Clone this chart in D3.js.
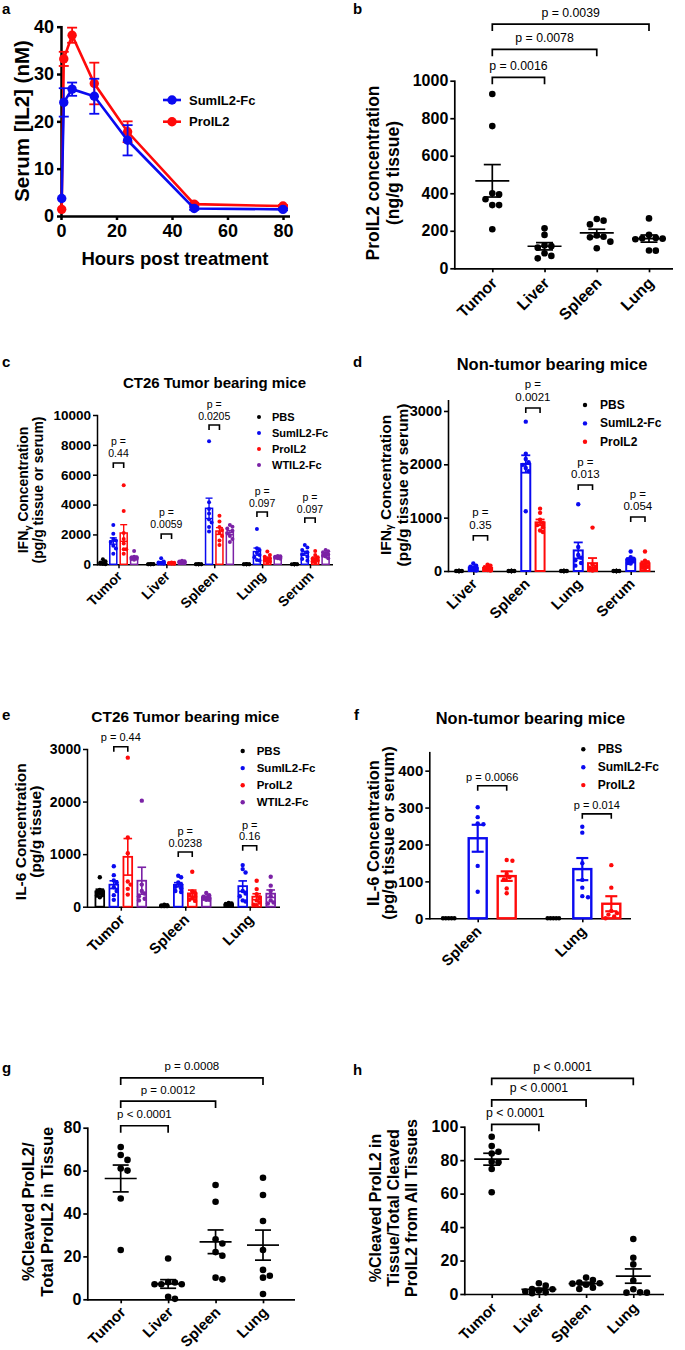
<!DOCTYPE html>
<html><head><meta charset="utf-8">
<script src="https://cdn.jsdelivr.net/npm/d3@7"></script>
<style>
body{margin:0;background:#fff}
svg{display:block}
text{font-family:"Liberation Sans",Arial,Helvetica,sans-serif}
</style>
</head><body>
<svg id="fig" width="685" height="1350"></svg>
<script>
// ================= DATA =================
// Panel a: serum IL2 time course (mean, SEM)
const aTimes   = [0.25, 1, 4, 12, 24, 48, 80];
const aSumMean = [3.7, 24.0, 26.8, 25.3, 16.0, 1.6, 1.4];
const aSumErr  = [0, 3.0, 1.4, 3.7, 3.2, 0.3, 0.2];
const aProMean = [1.4, 33.2, 38.2, 28.0, 17.8, 2.5, 2.1];
const aProErr  = [0, 1.5, 1.6, 4.4, 2.2, 0.3, 0.2];
const aXTicks  = [0, 20, 40, 60, 80];
const aYTicks  = [0, 10, 20, 30, 40];
const aLegend  = ["SumIL2-Fc", "ProIL2"];

// shared tissue categories
const tissues = ["Tumor", "Liver", "Spleen", "Lung"];

// Panel b: ProIL2 concentration (ng/g tissue)
const bValues = [
  [929, 758, 400, 394, 368, 337, 337, 208],
  [213, 178, 122, 118, 110, 80, 66, 53],
  [263, 254, 234, 175, 168, 165, 142, 107],
  [266, 178, 162, 160, 158, 155, 95, 94]
];
const bYTicks  = [0, 200, 400, 600, 800, 1000];
const bPLabels = ["p = 0.0016", "p = 0.0078", "p = 0.0039"];
const bPLevels = [1018, 1167, 1302];

// Panel c: IFNg, CT26 tumor bearing mice
const cGroups = ["Tumor", "Liver", "Spleen", "Lung", "Serum"];
const cSeries = ["PBS", "SumIL2-Fc", "ProIL2", "WTIL2-Fc"];
const cPBS = [[330,200,120,80,50,30,20,10],[20,15,10,10,5,5,0,0],[10,5,5,0,0,0,0,0],[10,5,5,0,0,0,0,0],[10,5,0,0,0,0,0,0]];
const cSum = [[2630,2050,1700,1600,1500,1250,1050,700],[400,180,120,100,80,60,50,40],[8250,4150,3700,3400,3000,2800,2500,2200],[2370,1070,950,780,620,470,290,250],[1300,1120,960,800,650,500,350,240]];
const cPro = [[5300,3570,2100,1700,1400,1000,1000,700],[120,100,80,70,60,50,40,30],[3260,2860,2500,2300,2100,1900,1600,1300],[850,620,500,400,300,250,180,100],[890,620,470,380,300,250,180,110]];
const cWT  = [[890,500,470,450,420,380,350,300],[230,200,180,160,140,130,100,80],[2630,2520,2400,2250,2100,1900,1700,1500],[560,540,500,480,460,440,400,380],[960,880,800,720,650,580,520,410]];
const cYTicks  = [0, 2000, 4000, 6000, 8000, 10000];
const cPLabels = [["p =","0.44"],["p =","0.0059"],["p =","0.0205"],["p =","0.097"],["p =","0.097"]];
const cPLevels = [6785, 2030, 9330, 3500, 3100];

// Panel d: IFNg, non-tumor bearing mice
const dGroups = ["Liver", "Spleen", "Lung", "Serum"];
const dSeries = ["PBS", "SumIL2-Fc", "ProIL2"];
const dPBS = [[0,0,0,0,0,0,0,0],[0,0,0,0,0,0,0,0],[0,0,0,0,0,0,0,0],[0,0,0,0,0,0,0,0]];
const dSum = [[140,100,80,60,50,40,20,10],[2800,2200,2100,2040,1990,1930,1870,1120],[1250,450,300,250,200,150,100],[366,260,230,210,200,180,150,140]];
const dPro = [[120,100,70,60,40,30,20,10],[1170,1090,960,900,860,820,760,730],[814,120,80,60,40,30,20,10],[366,193,160,130,110,80,60,45]];
const dYTicks  = [0, 1000, 2000, 3000];
const dPLabels = [["p =","0.35"],["p =","0.0021"],["p =","0.013"],["p =","0.054"]];
const dPLevels = [662, 3056, 1612, 1012];

// Panel e: IL-6, CT26 tumor bearing mice
const eGroups = ["Tumor", "Spleen", "Lung"];
const eSeries = ["PBS", "SumIL2-Fc", "ProIL2", "WTIL2-Fc"];
const ePBS = [[560,320,300,280,260,220,210,180],[40,30,25,20,15,10,10,10],[70,60,50,40,30,30,20,20]];
const eSum = [[770,600,500,460,370,300,220,130],[589,560,460,420,380,350,300,280],[791,715,652,300,250,200,120,100]];
const ePro = [[2835,1316,1019,480,420,340,230],[665,290,260,220,190,160,130,110],[494,335,240,180,120,80,40,30]];
const eWT  = [[2017,420,300,250,200,150,120],[260,220,190,175,160,150,130,130],[570,400,300,200,120,80,60]];
const eYTicks  = [0, 1000, 2000, 3000];
const ePLabels = [["p = 0.44"],["p =","0.0238"],["p =","0.16"]];
const ePLevels = [3042, 1040, 1160];

// Panel f: IL-6, non-tumor bearing mice
const fGroups = ["Spleen", "Lung"];
const fSeries = ["PBS", "SumIL2-Fc", "ProIL2"];
const fPBS = [[0,0,0,0,0],[0,0,0,0,0]];
const fSum = [[301,274,257,255,142,72],[248,232,149,104,83,60,57]];
const fPro = [[158,156,120,112,105,81,68],[144,83,20,14,10,5,0]];
const fYTicks  = [0, 100, 200, 300, 400];
const fPLabels = [["p = 0.0066"],["p = 0.014"]];
const fPLevels = [359, 283];

// Panel g: % cleaved ProIL2 / total ProIL2 in tissue
const gValues = [
  [71, 67.3, 65, 61, 60, 47, 23],
  [19, 8, 7.8, 7, 7, 7, 1.2, 0.2],
  [53.3, 45.5, 28, 26, 22, 20.3, 10.1, 9.3],
  [56.7, 48.6, 36.5, 23, 13.7, 11, 10.1, 2.5]
];
const gYTicks  = [0, 20, 40, 60, 80];
const gPLabels = ["p < 0.0001", "p = 0.0012", "p = 0.0008"];
const gPLevels = [80.9, 92.4, 103.2];

// Panel h: % cleaved ProIL2 in tissue / total cleaved from all tissues
const hValues = [
  [94, 88.4, 85, 84, 79, 78.7, 74.7, 60.8],
  [6.4, 5, 3, 2.8, 2, 1.5, 1, 0.5],
  [9.8, 8.4, 6.8, 6.4, 6.2, 5.5, 3.8, 3],
  [32.9, 21.7, 17.7, 8, 2.8, 1, 0.8, 0.8]
];
const hYTicks  = [0, 20, 40, 60, 80, 100];
const hPLabels = ["p < 0.0001", "p < 0.0001", "p < 0.0001"];
const hPLevels = [101.4, 116, 128.9];

// ================= DRAWING =================
const COL = {"PBS":"#000000","SumIL2-Fc":"#0a0af0","ProIL2":"#ff0a0a","WTIL2-Fc":"#7b22a6"};
const fmt = d3.format("d");
const fig = d3.select("#fig");
fig.append("rect").attr("width",685).attr("height",1350).attr("fill","#fff");

function styleAxis(ag, fs, sw){
  ag.select(".domain").attr("stroke-width", sw).attr("stroke","#000").attr("stroke-linecap","square");
  ag.selectAll(".tick line").attr("stroke-width", sw).attr("stroke","#000");
  ag.selectAll(".tick text").attr("font-size", fs).attr("font-weight","bold").attr("fill","#000");
}
function txt(g, x, y, s, o){
  o = o || {};
  const t = g.append("text").attr("x",x).attr("y",y).text(s)
    .attr("font-size", o.size || 12)
    .attr("font-weight", o.bold ? "bold" : "normal")
    .attr("text-anchor", o.anchor || "start")
    .attr("fill", o.fill || "#000");
  if (o.baseline) t.attr("dominant-baseline", o.baseline);
  return t;
}
function vTitle(g, xs, cy, lines, fs){
  lines.forEach((L, i) => {
    const t = g.append("text").attr("transform", `translate(${xs[i]},${cy}) rotate(-90)`)
      .attr("text-anchor","middle").attr("dominant-baseline","central")
      .attr("font-size", fs).attr("font-weight","bold").attr("fill","#000");
    if (L.indexOf("γ") >= 0) {
      const parts = L.split("γ");
      t.append("tspan").text(parts[0]);
      t.append("tspan").text("γ").attr("font-size", fs*0.68).attr("dy", fs*0.28);
      t.append("tspan").text(parts[1]).attr("dy", -fs*0.28);
    } else t.text(L);
  });
}
function swarm(vals, ys, cx, step, maxOff, sep){
  const pts = vals.map(v => ({v, y: ys(v)})).sort((a,b) => a.y - b.y);
  const offs = [0];
  for (let i = 1; i*step <= maxOff + 1e-6; i++) offs.push(i*step, -i*step);
  const placed = [];
  for (const p of pts){
    let best = cx, bestD = -1;
    for (const o of offs){
      const x = cx + o;
      const dmin = placed.length ? d3.min(placed, q => Math.hypot(q.x - x, q.y - p.y)) : Infinity;
      if (dmin >= sep){ best = x; bestD = dmin; break; }
      if (dmin > bestD){ bestD = dmin; best = x; }
    }
    p.x = best; placed.push(p);
  }
  return placed;
}
function rotLabels(g, cats, xs, y0, fs, dx, dy){
  g.selectAll(null).data(cats).join("text")
    .attr("transform", d => `translate(${xs(d)+dx},${y0+dy}) rotate(-45)`)
    .attr("text-anchor","end").attr("dominant-baseline","central")
    .attr("font-size", fs).attr("font-weight","bold").attr("fill","#000")
    .text(d => d);
}
function label(x, y, s){ txt(fig, x, y, s, {size:15, bold:true}); }

// ---------- Panel a ----------
(function(){
  const g = fig.append("g");
  const x = d3.scaleLinear([0, 80], [61, 283]);
  const y = d3.scaleLinear([0, 40], [216, 26.7]);
  const ya = g.append("g").attr("transform","translate(61,0)")
    .call(d3.axisLeft(y).tickValues(aYTicks).tickFormat(fmt).tickSize(4).tickPadding(3).tickSizeOuter(0));
  styleAxis(ya, 18, 2.5);
  const xa = g.append("g").attr("transform","translate(0,216)")
    .call(d3.axisBottom(x).tickValues(aXTicks).tickFormat(fmt).tickSize(4).tickPadding(4).tickSizeOuter(0));
  styleAxis(xa, 18, 2.5);
  xa.select(".domain").remove();
  g.append("line").attr("x1",61).attr("x2",290).attr("y1",216.5).attr("y2",216.5)
    .attr("stroke","#000").attr("stroke-width",2.5);
  const series = [
    {name:"ProIL2", m:aProMean, e:aProErr},
    {name:"SumIL2-Fc", m:aSumMean, e:aSumErr}
  ];
  series.forEach(s => {
    const c = COL[s.name];
    const pts = aTimes.map((t, i) => ({t, m:s.m[i], e:s.e[i]}));
    pts.filter(p => p.e > 0).forEach(p => {
      g.append("line").attr("x1",x(p.t)).attr("x2",x(p.t)).attr("y1",y(p.m-p.e)).attr("y2",y(p.m+p.e))
        .attr("stroke",c).attr("stroke-width",1.8);
      [p.m-p.e, p.m+p.e].forEach(v => g.append("line").attr("x1",x(p.t)-5).attr("x2",x(p.t)+5)
        .attr("y1",y(v)).attr("y2",y(v)).attr("stroke",c).attr("stroke-width",1.8));
    });
    g.append("path").datum(pts).attr("fill","none").attr("stroke",c).attr("stroke-width",2.6)
      .attr("d", d3.line().x(p => x(p.t)).y(p => y(p.m)));
    g.selectAll(null).data(pts).join("circle").attr("cx",p => x(p.t)).attr("cy",p => y(p.m))
      .attr("r",4.7).attr("fill",c);
  });
  aLegend.forEach((n, i) => {
    const ly = 100 + i*21.7;
    g.append("line").attr("x1",163).attr("x2",181).attr("y1",ly).attr("y2",ly).attr("stroke",COL[n]).attr("stroke-width",2.6);
    g.append("circle").attr("cx",172).attr("cy",ly).attr("r",4.7).attr("fill",COL[n]);
    txt(g, 189, ly, n, {size:13, bold:true, baseline:"central"});
  });
  txt(g, 175, 265, "Hours post treatment", {size:18.5, bold:true, anchor:"middle"});
  vTitle(g, [21], 121, ["Serum [IL2] (nM)"], 20.5);
  label(2, 14, "a");
})();

// ---------- scatter panels (b, g, h) ----------
function scatterPanel(cfg){
  const g = fig.append("g");
  const x = d3.scalePoint(tissues, cfg.xRange);
  const y = d3.scaleLinear(cfg.yDomain, cfg.yRange);
  const y0 = cfg.yRange[0];
  const ya = g.append("g").attr("transform",`translate(${cfg.x0},0)`)
    .call(d3.axisLeft(y).tickValues(cfg.yTicks).tickFormat(fmt).tickSize(4).tickPadding(2).tickSizeOuter(0));
  styleAxis(ya, cfg.tickFs, 1.7);
  const xa = g.append("g").attr("transform",`translate(0,${y0})`)
    .call(d3.axisBottom(x).tickSize(4).tickFormat(""));
  styleAxis(xa, cfg.tickFs, 1.7);
  xa.select(".domain").remove();
  g.append("line").attr("x1",cfg.x0).attr("x2",cfg.x1).attr("y1",y0+0.5).attr("y2",y0+0.5)
    .attr("stroke","#000").attr("stroke-width",1.7);
  rotLabels(g, tissues, x, y0, cfg.lblFs, 2, cfg.lblDy);
  cfg.values.forEach((vals, i) => {
    const cx = x(tissues[i]);
    const pts = swarm(vals, y, cx, 6.8, 20, 6.3);
    g.selectAll(null).data(pts).join("circle").attr("cx",p => p.x).attr("cy",p => p.y).attr("r",3.3).attr("fill","#000");
    const m = d3.mean(vals), se = d3.deviation(vals)/Math.sqrt(vals.length);
    g.append("line").attr("x1",cx-cfg.meanW).attr("x2",cx+cfg.meanW).attr("y1",y(m)).attr("y2",y(m)).attr("stroke","#000").attr("stroke-width",1.7);
    g.append("line").attr("x1",cx).attr("x2",cx).attr("y1",y(m-se)).attr("y2",y(m+se)).attr("stroke","#000").attr("stroke-width",1.7);
    [m-se, m+se].forEach(v => g.append("line").attr("x1",cx-cfg.capW).attr("x2",cx+cfg.capW).attr("y1",y(v)).attr("y2",y(v)).attr("stroke","#000").attr("stroke-width",1.7));
  });
  [[0,1],[0,2],[0,3]].forEach((pr, k) => {
    const xa1 = x(tissues[pr[0]]), xa2 = x(tissues[pr[1]]), by = y(cfg.pLevels[k]);
    g.append("path").attr("d",`M${xa1},${by+7}V${by}H${xa2}V${by+7}`).attr("fill","none").attr("stroke","#000").attr("stroke-width",1.7);
    txt(g, (xa1+xa2)/2, by-7.5, cfg.pLabels[k], {size:cfg.pFs, anchor:"middle"});
  });
  vTitle(g, cfg.titleX, cfg.titleY, cfg.title, cfg.titleFs);
}
scatterPanel({values:bValues, xRange:[492.3, 649], yDomain:[0,1000], yRange:[268.3, 80.7], x0:454.3, x1:673,
  yTicks:bYTicks, tickFs:16, lblFs:16, lblDy:12, meanW:17, capW:8.5, pLevels:bPLevels, pLabels:bPLabels, pFs:12.3,
  title:["ProIL2 concentration","(ng/g tissue)"], titleX:[373, 393], titleY:173, titleFs:17.5});
label(353, 14, "b");
scatterPanel({values:gValues, xRange:[120.7, 263], yDomain:[0,80], yRange:[1299.3, 1127.7], x0:87.3, x1:295,
  yTicks:gYTicks, tickFs:16, lblFs:15, lblDy:10, meanW:16, capW:8, pLevels:gPLevels, pLabels:gPLabels, pFs:11.5,
  title:["%Cleaved ProIL2/","Total ProIL2 in Tissue"], titleX:[28, 47], titleY:1211.7, titleFs:16.5});
label(2, 1073, "g");
scatterPanel({values:hValues, xRange:[491.7, 633.3], yDomain:[0,100], yRange:[1294, 1126.7], x0:464.3, x1:664,
  yTicks:hYTicks, tickFs:16, lblFs:15, lblDy:11, meanW:17.5, capW:8.5, pLevels:hPLevels, pLabels:hPLabels, pFs:12.3,
  title:["%Cleaved ProIL2 in","Tissue/Total Cleaved","ProIL2 from All Tissues"], titleX:[375, 393.3, 411.7], titleY:1208, titleFs:16});
label(353, 1075, "h");

// ---------- bar panels (c, d, e, f) ----------
function barPanel(cfg){
  const g = fig.append("g");
  const gx = d3.scalePoint(cfg.groups, cfg.gRange);
  const sx = d3.scaleBand(cfg.series, cfg.sRange);
  const y = d3.scaleLinear(cfg.yDomain, cfg.yRange);
  const y0 = cfg.yRange[0];
  const ya = g.append("g").attr("transform",`translate(${cfg.x0},0)`)
    .call(d3.axisLeft(y).tickValues(cfg.yTicks).tickFormat(fmt).tickSize(4).tickPadding(2).tickSizeOuter(0));
  styleAxis(ya, cfg.tickFs, cfg.sw);
  const xa = g.append("g").attr("transform",`translate(0,${y0})`)
    .call(d3.axisBottom(gx).tickSize(4).tickFormat(""));
  styleAxis(xa, cfg.tickFs, cfg.sw);
  xa.select(".domain").remove();
  g.append("line").attr("x1",cfg.x0).attr("x2",cfg.x1).attr("y1",y0+0.5).attr("y2",y0+0.5)
    .attr("stroke","#000").attr("stroke-width",cfg.sw);
  rotLabels(g, cfg.groups, gx, y0, cfg.lblFs, 1, cfg.lblDy);
  const sxc = s => sx(s) + sx.bandwidth()/2;
  cfg.series.forEach((s, si) => {
    const c = COL[s];
    cfg.groups.forEach((grp, gi) => {
      const vals = cfg.data[si][gi];
      const cx = gx(grp) + sxc(s);
      const m = d3.mean(vals), se = d3.deviation(vals)/Math.sqrt(vals.length);
      g.append("rect").attr("x",cx-cfg.bw/2).attr("y",y(m)).attr("width",cfg.bw).attr("height",Math.max(0,y0-y(m)))
        .attr("fill","none").attr("stroke",c).attr("stroke-width",cfg.barSw);
      const pts = swarm(vals, y, cx, cfg.r*1.3, cfg.maxOff, cfg.r*1.8);
      g.selectAll(null).data(pts).join("circle").attr("cx",p => p.x).attr("cy",p => p.y).attr("r",cfg.r).attr("fill",c);
      if (se > 0){
        g.append("line").attr("x1",cx).attr("x2",cx).attr("y1",y(Math.max(0,m-se))).attr("y2",y(m+se)).attr("stroke",c).attr("stroke-width",cfg.barSw*0.9);
        [Math.max(0,m-se), m+se].forEach(v => g.append("line").attr("x1",cx-cfg.capW).attr("x2",cx+cfg.capW)
          .attr("y1",y(v)).attr("y2",y(v)).attr("stroke",c).attr("stroke-width",cfg.barSw*0.9));
      }
    });
  });
  cfg.groups.forEach((grp, gi) => {
    const x1 = gx(grp) + sxc(cfg.series[1]), x2 = gx(grp) + sxc(cfg.series[2]);
    const by = y(cfg.pLevels[gi]);
    g.append("path").attr("d",`M${x1},${by+5}V${by}H${x2}V${by+5}`).attr("fill","none").attr("stroke","#000").attr("stroke-width",1.6);
    const lines = cfg.pLabels[gi];
    lines.forEach((L, li) => {
      txt(g, (x1+x2)/2, by - cfg.pGap - (lines.length-1-li)*cfg.pLh, L, {size:cfg.pFs, anchor:"middle"});
    });
  });
  cfg.series.forEach((s, i) => {
    const ly = cfg.legY + i*cfg.legDy;
    g.append("circle").attr("cx",cfg.legX).attr("cy",ly).attr("r",cfg.r).attr("fill",COL[s]);
    txt(g, cfg.legX + cfg.legTx, ly, s, {size:cfg.legFs, bold:true, baseline:"central"});
  });
  txt(g, cfg.titlePos[0], cfg.titlePos[1], cfg.title, {size:cfg.titleFs, bold:true, anchor:"middle"});
  vTitle(g, cfg.yTitleX, cfg.yTitleY, cfg.yTitle, cfg.yTitleFs);
}
barPanel({groups:cGroups, series:cSeries, data:[cPBS,cSum,cPro,cWT], gRange:[118.5, 310], sRange:[-20.8, 20.8],
  yDomain:[0,10000], yRange:[564.3, 415], x0:97, x1:333, yTicks:cYTicks, tickFs:13.5, sw:1.5, lblFs:14, lblDy:9,
  bw:7, barSw:1.5, r:2, maxOff:4, capW:3.5, pLevels:cPLevels, pLabels:cPLabels, pFs:10.5, pGap:5.5, pLh:12,
  legX:259, legY:417, legDy:16, legTx:13, legFs:11, title:"CT26 Tumor bearing mice", titlePos:[214.5, 388], titleFs:15,
  yTitle:["IFNγ Concentration","(pg/g tissue or serum)"], yTitleX:[23, 38], yTitleY:490, yTitleFs:14});
label(2, 367, "c");
barPanel({groups:dGroups, series:dSeries, data:[dPBS,dSum,dPro], gRange:[473.3, 630.7], sRange:[-21.45, 21.45],
  yDomain:[0,3200], yRange:[571, 400.3], x0:448, x1:655, yTicks:dYTicks, tickFs:14.5, sw:1.6, lblFs:15, lblDy:10,
  bw:9, barSw:2, r:2.2, maxOff:5, capW:4.5, pLevels:dPLevels, pLabels:dPLabels, pFs:11.5, pGap:7, pLh:12.5,
  legX:585, legY:405, legDy:18.4, legTx:15, legFs:12, title:"Non-tumor bearing mice", titlePos:[552, 370], titleFs:16.5,
  yTitle:["IFNγ Concentration","(pg/g tissue or serum)"], yTitleX:[385, 402], yTitleY:485, yTitleFs:15.5});
label(353, 367, "d");
barPanel({groups:eGroups, series:eSeries, data:[ePBS,eSum,ePro,eWT], gRange:[120.8, 249.7], sRange:[-28, 28],
  yDomain:[0,3000], yRange:[906.7, 749], x0:87, x1:280, yTicks:eYTicks, tickFs:14, sw:1.5, lblFs:15, lblDy:10,
  bw:8.7, barSw:1.8, r:2.2, maxOff:4.5, capW:4.3, pLevels:ePLevels, pLabels:ePLabels, pFs:11, pGap:5.5, pLh:11.6,
  legX:242.7, legY:751, legDy:17.1, legTx:14, legFs:11.5, title:"CT26 Tumor bearing mice", titlePos:[185.3, 722], titleFs:15.4,
  yTitle:["IL-6 Concentration","(pg/g tissue)"], yTitleX:[20, 35], yTitleY:831.7, yTitleFs:15.5});
label(2, 720, "e");
barPanel({groups:fGroups, series:fSeries, data:[fPBS,fSum,fPro], gRange:[477.7, 582.3], sRange:[-43.5, 43.5],
  yDomain:[0,450], yRange:[918.3, 752.2], x0:429.3, x1:631, yTicks:fYTicks, tickFs:15, sw:1.6, lblFs:15, lblDy:10,
  bw:18, barSw:2.4, r:2.2, maxOff:8, capW:6, pLevels:fPLevels, pLabels:fPLabels, pFs:11, pGap:5, pLh:12,
  legX:583.3, legY:749.3, legDy:17.9, legTx:14.4, legFs:12, title:"Non-tumor bearing mice", titlePos:[530.5, 724], titleFs:16.4,
  yTitle:["IL-6 Concentration","(pg/g tissue or serum)"], yTitleX:[373, 388], yTitleY:833, yTitleFs:16.5});
label(354, 720, "f");
</script>
</body></html>
